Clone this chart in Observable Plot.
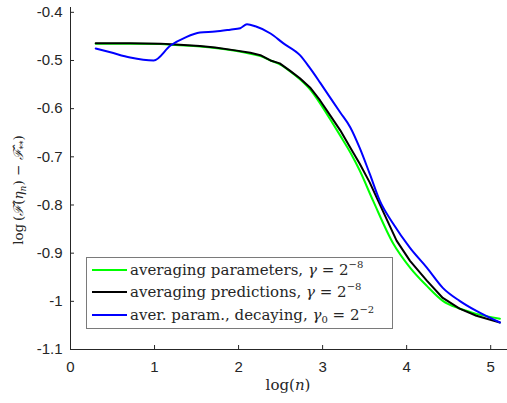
<!DOCTYPE html>
<html>
<head>
<meta charset="utf-8">
<script src="https://cdn.jsdelivr.net/npm/d3@7"></script>
<script src="https://cdn.jsdelivr.net/npm/@observablehq/plot@0.6"></script>
<style>
  html, body { margin: 0; padding: 0; background: white; }
  #chart { position: relative; width: 507px; height: 403px; }
</style>
</head>
<body>
<div id="chart"></div>
<script>
// ---- data ----
const xTicks = [0, 1, 2, 3, 4, 5];
const yTicks = [-1.1, -1, -0.9, -0.8, -0.7, -0.6, -0.5, -0.4];
const xTickLabels = ["0", "1", "2", "3", "4", "5"];
const yTickLabels = ["-1.1", "-1", "-0.9", "-0.8", "-0.7", "-0.6", "-0.5", "-0.4"];

const seriesNames = [
  "averaging parameters",
  "averaging predictions",
  "aver. param., decaying"
];
const seriesColors = ["#00ff00", "#000000", "#0000ff"];

const greenX = [0.30, 0.71, 1.07, 1.25, 1.54, 1.72, 1.96, 2.14, 2.26, 2.38, 2.49, 2.61, 2.73, 2.85, 2.97, 3.09, 3.21, 3.33, 3.44, 3.60, 3.84, 4.04, 4.24, 4.43, 4.63, 4.83, 5.11];
const greenY = [-0.465, -0.465, -0.466, -0.468, -0.471, -0.474, -0.480, -0.486, -0.491, -0.500, -0.508, -0.522, -0.539, -0.560, -0.589, -0.622, -0.656, -0.691, -0.728, -0.791, -0.880, -0.930, -0.968, -0.999, -1.015, -1.026, -1.036];

const blackX = [0.30, 0.71, 1.07, 1.25, 1.54, 1.72, 1.96, 2.14, 2.26, 2.38, 2.49, 2.61, 2.73, 2.85, 2.97, 3.09, 3.21, 3.33, 3.44, 3.56, 3.66, 3.88, 4.04, 4.24, 4.43, 4.63, 4.83, 5.11];
const blackY = [-0.464, -0.464, -0.465, -0.467, -0.470, -0.473, -0.479, -0.484, -0.489, -0.500, -0.506, -0.521, -0.537, -0.556, -0.583, -0.614, -0.645, -0.681, -0.714, -0.753, -0.791, -0.874, -0.916, -0.957, -0.993, -1.015, -1.030, -1.044];

const blueX = [0.30, 0.475, 0.71, 0.99, 1.19, 1.37, 1.54, 1.72, 1.90, 2.02, 2.10, 2.20, 2.38, 2.53, 2.73, 2.85, 2.97, 3.09, 3.21, 3.33, 3.44, 3.56, 3.68, 3.84, 4.04, 4.24, 4.43, 4.63, 4.83, 5.11];
const blueY = [-0.475, -0.483, -0.494, -0.500, -0.469, -0.452, -0.442, -0.440, -0.436, -0.433, -0.425, -0.429, -0.444, -0.464, -0.489, -0.516, -0.546, -0.577, -0.608, -0.639, -0.681, -0.735, -0.791, -0.839, -0.889, -0.930, -0.972, -0.999, -1.020, -1.044];

const toRows = (xs, ys) => xs.map((x, i) => ({x, y: ys[i]}));
const green = toRows(greenX, greenY);
const black = toRows(blackX, blackY);
const blue = toRows(blueX, blueY);

const axisColor = "#262626";

const chart = Plot.plot({
  width: 507,
  height: 403,
  marginLeft: 70,
  marginRight: 0,
  marginTop: 7,
  marginBottom: 54,
  style: {fontFamily: "'Liberation Sans', Arial, sans-serif", fontSize: "15px", color: axisColor, background: "white"},
  x: {domain: [0, 5.2], label: null},
  y: {domain: [-1.1, -0.39], label: null},
  marks: [
    Plot.axisX({ticks: xTicks, tickFormat: (d) => xTickLabels[xTicks.indexOf(d)], tickSize: -4, tickPadding: 16, stroke: axisColor, fill: axisColor, label: null}),
    Plot.axisY({ticks: yTicks, tickFormat: (d) => yTickLabels[yTicks.indexOf(d)], tickSize: -4, tickPadding: 12, stroke: axisColor, fill: axisColor, label: null}),
    Plot.ruleX([0], {stroke: axisColor}),
    Plot.ruleY([-1.1], {stroke: axisColor}),
    Plot.line(green, {x: "x", y: "y", stroke: seriesColors[0], strokeWidth: 2, curve: "monotone-x"}),
    Plot.line(black, {x: "x", y: "y", stroke: seriesColors[1], strokeWidth: 2, curve: "linear"}),
    Plot.line(blue, {x: "x", y: "y", stroke: seriesColors[2], strokeWidth: 2, curve: "monotone-x"})
  ]
});
document.getElementById("chart").appendChild(chart);

// ---- labels and legend (added to the same SVG) ----
const svg = d3.select(chart);
const serif = "'DejaVu Serif', 'Liberation Serif', serif";

// x label
const xl = svg.append("text")
  .attr("x", 288).attr("y", 390)
  .attr("text-anchor", "middle")
  .attr("font-family", serif).attr("font-size", 15).attr("fill", axisColor);
xl.append("tspan").text("log(");
xl.append("tspan").attr("font-style", "italic").text("n");
xl.append("tspan").text(")");

// y label
const yl = svg.append("text")
  .attr("transform", "translate(23,190) rotate(-90)")
  .attr("text-anchor", "middle")
  .attr("font-family", serif).attr("font-size", 13.5).attr("fill", axisColor);
yl.append("tspan").text("log\u2009(");
yl.append("tspan").attr("font-style", "italic").text("\u2131\u0302");
yl.append("tspan").text("(");
yl.append("tspan").attr("font-style", "italic").text("\u03B7");
yl.append("tspan").attr("font-style", "italic").attr("font-size", 9).attr("dy", 3).text("n");
yl.append("tspan").attr("dy", -3).text(") \u2212 ");
yl.append("tspan").attr("font-style", "italic").text("\u2131\u0302");
yl.append("tspan").attr("font-size", 9).attr("dy", 3).text("**");
yl.append("tspan").attr("dy", -3).text(")");

// legend
const lg = svg.append("g");
lg.append("rect").attr("x", 86.5).attr("y", 257.5).attr("width", 306).attr("height", 71)
  .attr("fill", "white").attr("stroke", "#7a7a7a").attr("stroke-width", 1);
const rowsY = [270, 292, 315];
const gammaTxt = [["\u03B3", "", " = 2", "\u22128"], ["\u03B3", "", " = 2", "\u22128"], ["\u03B3", "0", " = 2", "\u22122"]];
seriesNames.forEach((name, i) => {
  lg.append("line").attr("x1", 92).attr("x2", 127).attr("y1", rowsY[i]).attr("y2", rowsY[i])
    .attr("stroke", seriesColors[i]).attr("stroke-width", 2);
  const t = lg.append("text").attr("x", 130).attr("y", rowsY[i] + 5)
    .attr("text-anchor", "start")
    .attr("font-family", serif).attr("font-size", 15).attr("fill", axisColor);
  t.append("tspan").text(name + ", ");
  t.append("tspan").attr("font-style", "italic").text(gammaTxt[i][0]);
  if (gammaTxt[i][1]) t.append("tspan").attr("font-size", 10).attr("dy", 3).text(gammaTxt[i][1]);
  t.append("tspan").attr("dy", gammaTxt[i][1] ? -3 : 0).text(gammaTxt[i][2]);
  t.append("tspan").attr("font-size", 10).attr("dy", -7).text(gammaTxt[i][3]);
});
</script>
</body>
</html>
